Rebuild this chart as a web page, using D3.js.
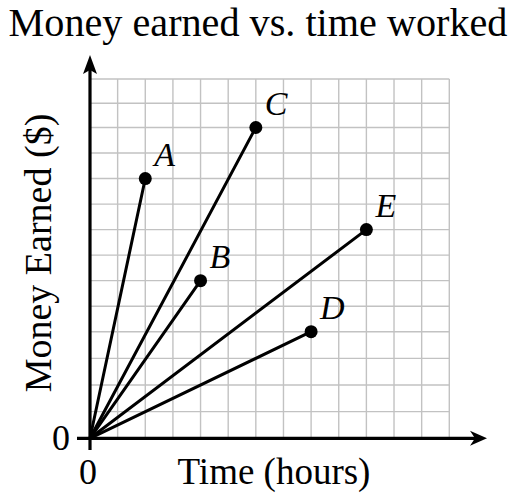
<!DOCTYPE html>
<html>
<head>
<meta charset="utf-8">
<script src="https://cdn.jsdelivr.net/npm/d3@7"></script>
<style>
  html, body { margin: 0; padding: 0; background: #fff; }
  svg { display: block; }
  text { font-family: "Liberation Serif", "Times New Roman", serif; fill: #000; }
</style>
</head>
<body>
<svg id="chart" width="517" height="500"></svg>
<script>
// ---- data ----
const title = "Money earned vs. time worked";
const xLabel = "Time (hours)";
const yLabel = "Money Earned ($)";
const labels = ["A", "B", "C", "D", "E"];
const hours = [2, 4, 6, 8, 10];
const earned = [10, 6, 12, 4, 8];
const xMax = 13;
const yMax = 14;
const tickLabels = ["0"];

// ---- layout ----
const svg = d3.select("#chart");
const x = d3.scaleLinear().domain([0, xMax]).range([90, 449.3]);
// the source grid is slightly non-uniform vertically
const y = d3.scaleLinear().domain([0, 4, 12, yMax]).range([438.3, 331.7, 127.5, 79]);

// grid
const grid = svg.append("g");
grid.selectAll("line.v").data(d3.range(1, xMax + 1)).join("line")
  .attr("x1", d => x(d)).attr("x2", d => x(d))
  .attr("y1", y(0)).attr("y2", y(yMax))
  .attr("stroke", "#c2c2c2").attr("stroke-width", 1.4);
grid.selectAll("line.h").data(d3.range(1, yMax + 1)).join("line")
  .attr("y1", d => y(d)).attr("y2", d => y(d))
  .attr("x1", x(0)).attr("x2", x(xMax))
  .attr("stroke", "#c2c2c2").attr("stroke-width", 1.4);

// axes
svg.append("line").attr("x1", 77).attr("x2", 478).attr("y1", y(0)).attr("y2", y(0))
  .attr("stroke", "#000").attr("stroke-width", 3.2);
svg.append("line").attr("x1", x(0)).attr("x2", x(0)).attr("y1", 450).attr("y2", 66)
  .attr("stroke", "#000").attr("stroke-width", 3.2);
// arrowheads
const ax = 487, ay = y(0);
svg.append("path")
  .attr("d", `M${ax},${ay} L${ax-17},${ay-7.5} L${ax-12},${ay} L${ax-17},${ay+7.5} Z`)
  .attr("fill", "#000");
const tx = x(0), ty = 55;
svg.append("path")
  .attr("d", `M${tx},${ty} L${tx-7},${ty+19} L${tx},${ty+15} L${tx+7},${ty+19} Z`)
  .attr("fill", "#000");

// lines and points
const pts = labels.map((l, i) => ({ l, h: hours[i], m: earned[i] }));
svg.append("g").selectAll("line").data(pts).join("line")
  .attr("x1", x(0)).attr("y1", y(0))
  .attr("x2", d => x(d.h)).attr("y2", d => y(d.m))
  .attr("stroke", "#000").attr("stroke-width", 3).attr("stroke-linecap", "round");
svg.append("g").selectAll("circle").data(pts).join("circle")
  .attr("cx", d => x(d.h)).attr("cy", d => y(d.m)).attr("r", 6.5).attr("fill", "#000");
svg.append("g").selectAll("text").data(pts).join("text")
  .attr("x", d => x(d.h) + 9).attr("y", d => y(d.m) - 13)
  .attr("font-size", 34).attr("font-style", "italic")
  .text(d => d.l);

// texts
svg.append("text").attr("x", 258).attr("y", 36).attr("text-anchor", "middle")
  .attr("font-size", 40.2).text(title);
svg.append("text").attr("x", 274).attr("y", 484).attr("text-anchor", "middle")
  .attr("font-size", 37).text(xLabel);
svg.append("text").attr("transform", "translate(51,253) rotate(-90)").attr("text-anchor", "middle")
  .attr("font-size", 38).text(yLabel);
svg.append("text").attr("x", x(0) - 2).attr("y", 484).attr("text-anchor", "middle")
  .attr("font-size", 36).text(tickLabels[0]);
svg.append("text").attr("x", 70).attr("y", y(0) + 12).attr("text-anchor", "end")
  .attr("font-size", 36).text(tickLabels[0]);
</script>
</body>
</html>
